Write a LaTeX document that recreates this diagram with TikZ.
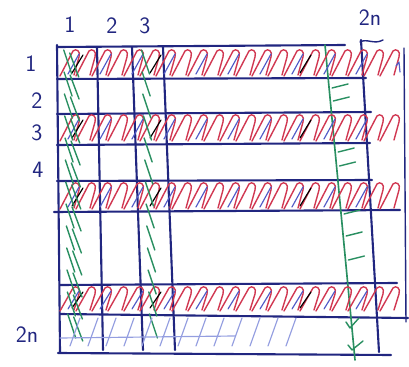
\documentclass[tikz,border=0pt]{standalone}
\usepackage{tikz}
\usetikzlibrary{calc}
\definecolor{inkgrid}{rgb}{0.13,0.15,0.50}
\definecolor{inkred}{rgb}{0.82,0.22,0.32}
\definecolor{inkblue}{rgb}{0.32,0.36,0.78}
\definecolor{inkgreen}{rgb}{0.16,0.56,0.38}
\definecolor{inkpale}{rgb}{0.58,0.62,0.88}

\begin{document}
\begin{tikzpicture}[x=0.03cm, y=-0.03cm, line cap=round, line join=round,
  gridline/.style={inkgrid, line width=1.8pt},
  redloop/.style={inkred, line width=1.2pt},
  bluestroke/.style={inkblue, line width=1.0pt},
  greenstroke/.style={inkgreen, line width=1.2pt},
  palestroke/.style={inkpale, line width=1.0pt},
  idx/.style={inkgrid, font=\sffamily\fontsize{20}{20}\selectfont}]
  \useasboundingbox (0,0) rectangle (409,367);
  % indices
  \node[idx] (c1) at (70,25) {1};
  \node[idx] (c2) at (112,26) {2};
  \node[idx] (c3) at (145,26) {3};
  \node[idx] (c2n) at (370,18) {2n};
  \node[idx] (r1) at (31,64) {1};
  \node[idx] (r2) at (37,101) {2};
  \node[idx] (r3) at (37,133) {3};
  \node[idx] (r4) at (38,170) {4};
  \node[idx] (r2n) at (27,335) {2n};
  % grid
  \draw[gridline] (57,45) -- (60,352);
  \draw[gridline] (97,47) -- (103,350);
  \draw[gridline] (132,47) -- (143,350);
  \draw[gridline] (163,47) -- (175,350);
  \draw[gridline] (361,40) -- (379,352);
  \draw[gridline, line width=1.2pt] (404,48) -- (406,322);
  \draw[gridline] (58,47) -- (345,45);
  \draw[gridline] (57,79) -- (366,78);
  \draw[gridline] (57,114) -- (371,112);
  \draw[gridline] (57,145) -- (370,143);
  \draw[gridline] (57,181) -- (372,180);
  \draw[gridline] (54,212) -- (400,210);
  \draw[gridline] (60,285) -- (397,283);
  \draw[gridline] (60,314) -- (408,318);
  \draw[gridline] (58,353) -- (391,355);
  \draw[gridline, line width=1.2pt] (360,42) .. controls (367,38) and (374,45) .. (383,40);
  % green column
  \draw[greenstroke, line width=1.4pt] (325,45) -- (355,360);
  % shaded rows
  \foreach \yt/\yb in {51/76, 116/141, 184/209, 288/311} {
    \foreach \x in {60,76,...,380}
      \draw[redloop] (\x,\yb) -- ({\x+13},\yt) .. controls ({\x+16},{\yt-3}) and ({\x+21},\yt) .. ({\x+19},{\yt+6}) -- ({\x+14},{\yb-1});
    \foreach \x in {68,100,...,380}
      \draw[bluestroke] (\x,{\yb-2}) -- ({\x+11},{\yt+3});
    \foreach \x in {72,150,300}
      \draw[black, line width=1pt] (\x,{\yb-3}) -- ({\x+11},{\yt+4});
  }
  \draw[bluestroke] (396,66) -- (399,62) -- (400,72);
  % green columns 1 and 3
  \foreach \y in {50,72,...,330} {
    \draw[greenstroke] ({63+\y*0.015},\y) -- ({71+\y*0.015},{\y+24});
    \draw[greenstroke] ({69+\y*0.015},{\y+3}) -- ({78+\y*0.015},{\y+27});
    \draw[greenstroke] ({140+\y*0.03},\y) -- ({148+\y*0.03},{\y+24});
  }
  % ticks in column 2n-1
  \foreach \y in {88,101,152,166,214,236,260}
    \draw[greenstroke] ({328+0.095*(\y-45)},\y) -- ({344+0.095*(\y-45)},{\y-4});
  \draw[greenstroke] (346,322) -- (350,328) -- (359,318);
  \draw[greenstroke] (348,345) -- (352,350) -- (363,341);
  % last row
  \draw[palestroke] (60,338) -- (235,336);
  \foreach \x in {70,88,...,290}
    \draw[palestroke] (\x,346) -- ({\x+10},318);
\end{tikzpicture}
\end{document}
